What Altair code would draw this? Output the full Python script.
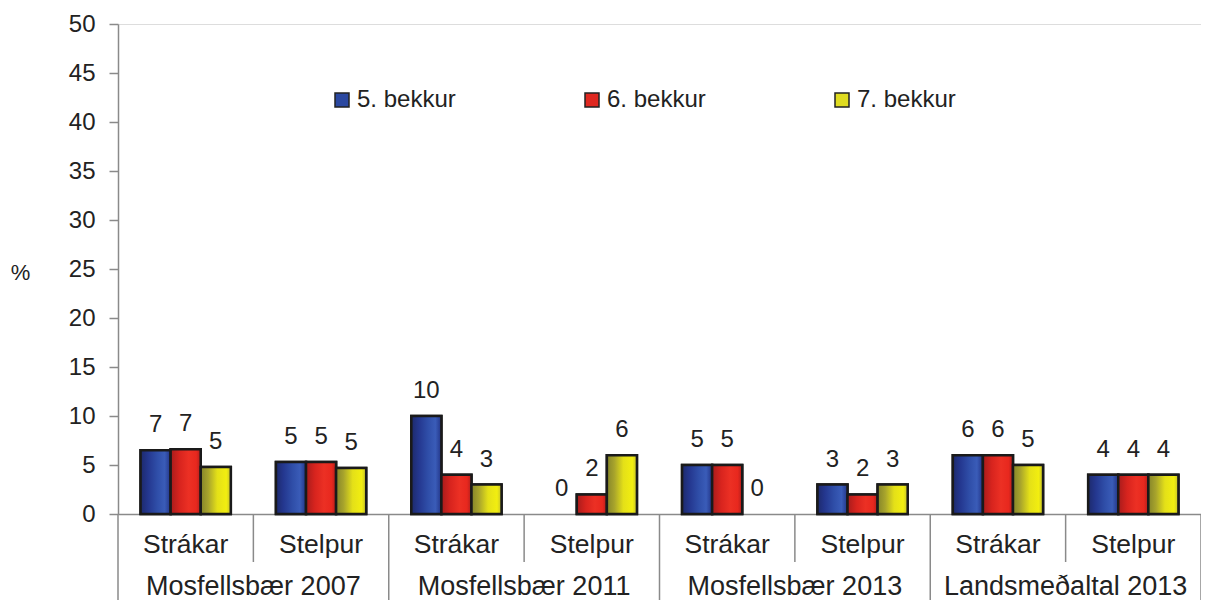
import altair as alt
import pandas as pd

groups = ["Mosfellsbær 2007", "Mosfellsbær 2011", "Mosfellsbær 2013", "Landsmeðaltal 2013"]
subgroups = ["Strákar", "Stelpur"]
series = ["5. bekkur", "6. bekkur", "7. bekkur"]
b5 = [6.5, 5.3, 10.0, 0.0, 5.0, 3.0, 6.0, 4.0]
b6 = [6.6, 5.3, 4.0, 2.0, 5.0, 2.0, 6.0, 4.0]
b7 = [4.8, 4.7, 3.0, 6.0, 0.0, 3.0, 5.0, 4.0]
y_ticks = list(range(0, 51, 5))

keys = [f"{g}|{s}" for g in groups for s in subgroups]
rows = []
for sname, vals in zip(series, [b5, b6, b7]):
    for k, v in zip(keys, vals):
        rows.append({"k": k, "series": sname, "value": v})
df = pd.DataFrame(rows)
sub_df = pd.DataFrame({"k": keys, "label": [k.split("|")[1] for k in keys]})
grp_df = pd.DataFrame({"k": [f"{g}|{subgroups[1]}" for g in groups], "label": groups})
inner_df = pd.DataFrame({"k": [f"{g}|{subgroups[1]}" for g in groups]})
outer_df = pd.DataFrame({"k": [f"{g}|{subgroups[0]}" for g in groups]})
end_df = pd.DataFrame({"k": [keys[-1]]})

W, H = 1083, 490
FONT = "Liberation Sans"
GRAY = "#8a8a8a"

xaxis = alt.Axis(labels=False, ticks=False, domain=True, domainColor=GRAY, domainWidth=1.5, title=None)
xscale = alt.Scale(paddingInner=0, paddingOuter=0)


def X(**kw):
    return alt.X("k:N", sort=keys, scale=xscale, axis=xaxis, **kw)


xoff = alt.XOffset("series:N", sort=series, scale=alt.Scale(paddingInner=0, paddingOuter=0.75))
yenc = alt.Y(
    "value:Q",
    scale=alt.Scale(domain=[0, 50], nice=False),
    axis=alt.Axis(
        values=y_ticks, grid=False, tickSize=9, labelPadding=14, labelFontSize=24,
        labelColor="#222", domainColor=GRAY, tickColor=GRAY, domainWidth=1.5, tickWidth=1.5,
        title="%", titleAngle=0, titleX=-98, titleY=248, titleAlign="center",
        titleBaseline="middle", titleFontSize=22, titleFontWeight="normal", titleColor="#222",
    ),
)

colors = ["#2b48a0", "#e02820", "#e0dc20"]
grads = [
    [("#1d2a6c", 0), ("#24378f", 0.25), ("#2f4ea8", 0.55), ("#3a5cb8", 0.8), ("#223487", 1)],
    [("#a81c1c", 0), ("#d8241e", 0.3), ("#ec3024", 0.6), ("#e8281e", 0.85), ("#b21e1c", 1)],
    [("#85852a", 0), ("#a8a42c", 0.25), ("#e4e018", 0.55), ("#f2ee10", 0.85), ("#c4c02c", 1)],
]

base = alt.Chart(df)
bars_solid = base.transform_filter("datum.value > 0").mark_bar(
    stroke="#1a1a1a", strokeWidth=2.5
).encode(
    x=X(), xOffset=xoff, y=yenc,
    color=alt.Color(
        "series:N", sort=series, scale=alt.Scale(domain=series, range=colors),
        legend=alt.Legend(
            orient="none", legendX=212, legendY=64, direction="horizontal", columns=3,
            columnPadding=124, symbolType="square", symbolSize=196, labelFontSize=24,
            labelOffset=3, title=None, symbolStrokeColor="#222", symbolStrokeWidth=1.5,
            labelColor="#222",
        ),
    ),
)

layers = [bars_solid]
for sname, g in zip(series, grads):
    grad = alt.Gradient(
        gradient="linear", x1=0, x2=1, y1=0, y2=0,
        stops=[alt.GradientStop(color=c, offset=o) for c, o in g],
    )
    layers.append(
        base.transform_filter(f"datum.value > 0 && datum.series == '{sname}'")
        .mark_bar(fill=grad, stroke="#1a1a1a", strokeWidth=2.5)
        .encode(x=X(), xOffset=xoff, y=yenc)
    )

labels = base.mark_text(dy=-25, fontSize=24, baseline="middle", color="#222").encode(
    x=X(), xOffset=xoff, y=yenc, text=alt.Text("value:Q", format=".0f")
)
layers.append(labels)

sub_text = alt.Chart(sub_df).mark_text(fontSize=26.5, baseline="middle", color="#222").encode(
    x=X(), y=alt.value(H + 31), text="label:N"
)
grp_text = alt.Chart(grp_df).mark_text(fontSize=27, baseline="middle", color="#222").encode(
    x=X(bandPosition=0), y=alt.value(H + 73), text="label:N"
)
short_rules = alt.Chart(inner_df).mark_rule(color=GRAY, strokeWidth=1.5).encode(
    x=X(bandPosition=0), y=alt.value(H), y2=alt.value(H + 48)
)
long_rules = alt.Chart(outer_df).mark_rule(color=GRAY, strokeWidth=1.5).encode(
    x=X(bandPosition=0), y=alt.value(H), y2=alt.value(H + 100)
)
end_rule = alt.Chart(end_df).mark_rule(color=GRAY, strokeWidth=1.5).encode(
    x=X(bandPosition=1), y=alt.value(H), y2=alt.value(H + 100)
)
layers += [sub_text, grp_text, short_rules, long_rules, end_rule]

chart = alt.layer(*layers).properties(
    width=W, height=H,
    padding={"left": 110, "top": 16, "right": 0, "bottom": 86},
    autosize=alt.AutoSizeParams(type="none"),
).configure_view(strokeWidth=0).configure(font=FONT)

chart.save("out.html", embed_options={"renderer": "svg", "actions": False})
